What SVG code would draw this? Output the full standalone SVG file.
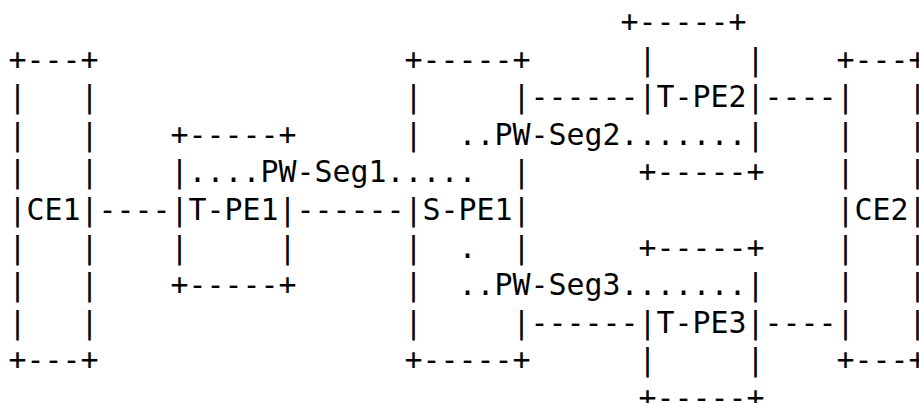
<svg xmlns="http://www.w3.org/2000/svg" width="919" height="403" viewBox="0 0 919 403">
<style>
text{font-family:"DejaVu Sans Mono","Liberation Mono",monospace;font-size:29.9px;fill:#000;white-space:pre}
</style>
<rect width="919" height="403" fill="#fff"/>
<g id="CE1" xml:space="preserve">
<text x="8.5" y="69.6">+---+</text>
<text x="8.5" y="107.2">|   |</text>
<text x="8.5" y="144.8">|   |</text>
<text x="8.5" y="182.4">|   |</text>
<text x="8.5" y="220">|CE1|</text>
<text x="8.5" y="257.6">|   |</text>
<text x="8.5" y="295.2">|   |</text>
<text x="8.5" y="332.8">|   |</text>
<text x="8.5" y="370.4">+---+</text>
</g>
<g id="T-PE1" xml:space="preserve">
<text x="170.5" y="144.8">+-----+</text>
<text x="170.5" y="182.4">|</text>
<text x="170.5" y="220">|T-PE1|</text>
<text x="170.5" y="257.6">|     |</text>
<text x="170.5" y="295.2">+-----+</text>
</g>
<g id="S-PE1" xml:space="preserve">
<text x="404.5" y="69.6">+-----+</text>
<text x="404.5" y="107.2">|     |</text>
<text x="404.5" y="144.8">|</text>
<text x="512.5" y="182.4">|</text>
<text x="404.5" y="220">|S-PE1|</text>
<text x="404.5" y="257.6">|</text>
<text x="512.5" y="257.6">|</text>
<text x="404.5" y="295.2">|</text>
<text x="404.5" y="332.8">|     |</text>
<text x="404.5" y="370.4">+-----+</text>
</g>
<g id="T-PE2" xml:space="preserve">
<text x="620.5" y="32">+-----+</text>
<text x="638.5" y="69.6">|     |</text>
<text x="638.5" y="107.2">|T-PE2|</text>
<text x="746.5" y="144.8">|</text>
<text x="638.5" y="182.4">+-----+</text>
</g>
<g id="T-PE3" xml:space="preserve">
<text x="638.5" y="257.6">+-----+</text>
<text x="746.5" y="295.2">|</text>
<text x="638.5" y="332.8">|T-PE3|</text>
<text x="638.5" y="370.4">|     |</text>
<text x="638.5" y="408">+-----+</text>
</g>
<g id="CE2" xml:space="preserve">
<text x="836.5" y="69.6">+---+</text>
<text x="836.5" y="107.2">|   |</text>
<text x="836.5" y="144.8">|   |</text>
<text x="836.5" y="182.4">|   |</text>
<text x="836.5" y="220">|CE2|</text>
<text x="836.5" y="257.6">|   |</text>
<text x="836.5" y="295.2">|   |</text>
<text x="836.5" y="332.8">|   |</text>
<text x="836.5" y="370.4">+---+</text>
</g>
<g id="connectors">
<text x="98.5" y="220">----</text>
<text x="296.5" y="220">------</text>
<text x="530.5" y="107.2">------</text>
<text x="764.5" y="107.2">----</text>
<text x="530.5" y="332.8">------</text>
<text x="764.5" y="332.8">----</text>
<text x="188.5" y="182.4">....PW-Seg1.....</text>
<text x="458.5" y="144.8">..PW-Seg2.......</text>
<text x="458.5" y="257.6">.</text>
<text x="458.5" y="295.2">..PW-Seg3.......</text>
</g>
</svg>
